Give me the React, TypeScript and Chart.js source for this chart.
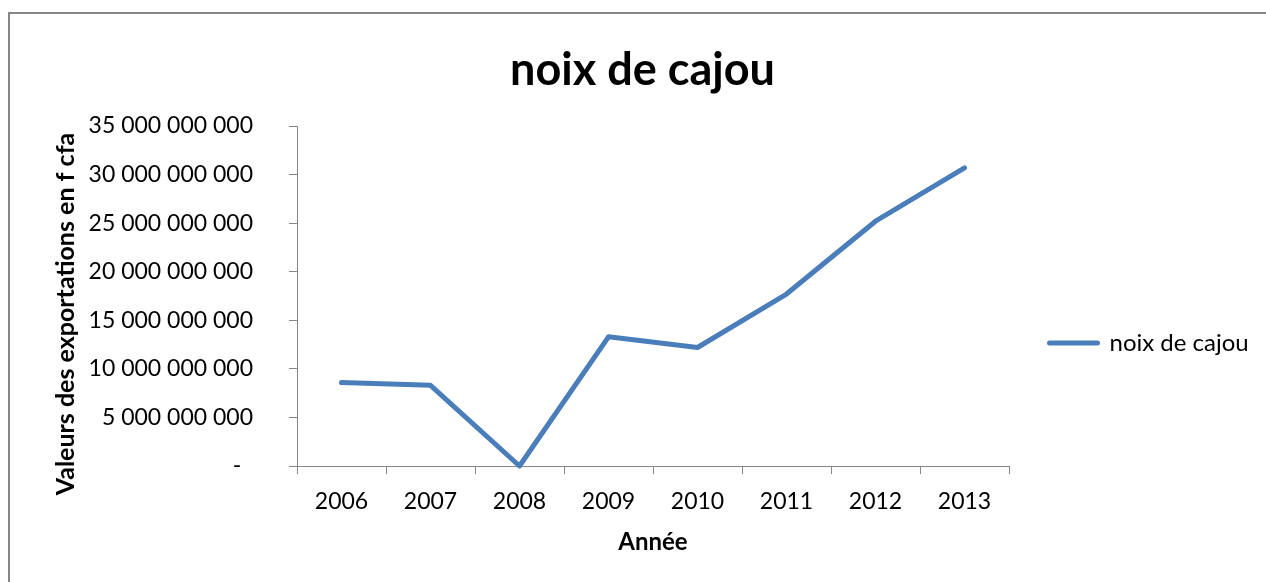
import React, { useEffect, useRef } from "react";
import { Chart, registerables } from "chart.js";

Chart.register(...registerables);

// ---- data ----
const categories = ["2006", "2007", "2008", "2009", "2010", "2011", "2012", "2013"];
const exportValues = [8.6e9, 8.3e9, 0, 13.3e9, 12.2e9, 17.7e9, 25.2e9, 30.7e9];
const yTickValues = [0, 5e9, 10e9, 15e9, 20e9, 25e9, 30e9, 35e9];
const yTickLabels = [
  "-  ",
  "5 000 000 000",
  "10 000 000 000",
  "15 000 000 000",
  "20 000 000 000",
  "25 000 000 000",
  "30 000 000 000",
  "35 000 000 000",
];
const seriesName = "noix de cajou";
const chartTitle = "noix de cajou";
const xAxisTitle = "Année";
const yAxisTitle = "Valeurs des exportations en f cfa";

// ---- styles / layout ----
const FONT = "Lato";
const AXIS_GRAY = "#868686";
const LINE_BLUE = "#4A7EBB";
const W = 1266;
const H = 582;
const PLOT = { left: 297, right: 1009, top: 126, bottom: 466 };
const TITLE_CX = 642.5;
const LEGEND_LINE_START = 1049.5;
const LEGEND_FONT = 24;
const LEGEND_BOX_W = 48;
const TICK_FONT = 23;

const yTitlePlugin = {
  id: "yTitleCustom",
  afterDraw(chart: any) {
    const { ctx, chartArea } = chart;
    ctx.save();
    ctx.font = `bold 25px ${FONT}`;
    ctx.fillStyle = "#000";
    ctx.textAlign = "center";
    ctx.textBaseline = "middle";
    ctx.translate(66, (chartArea.top + chartArea.bottom) / 2 + 18);
    ctx.rotate(-Math.PI / 2);
    ctx.fillText(yAxisTitle, 0, 0);
    ctx.restore();
  },
};

export default function App() {
  const ref = useRef<HTMLCanvasElement | null>(null);

  useEffect(() => {
    if (!ref.current) return;
    const m = document.createElement("canvas").getContext("2d")!;
    m.font = `normal ${LEGEND_FONT}px ${FONT}`;
    const textW = m.measureText(seriesName).width;
    const itemW = LEGEND_BOX_W + LEGEND_FONT / 2 + textW;
    const padR = W - LEGEND_LINE_START - itemW - 10;
    const legendPad = LEGEND_LINE_START - PLOT.right;
    const padL = 2 * TITLE_CX - W + padR;

    const chart = new Chart(ref.current, {
      type: "line",
      data: {
        labels: categories,
        datasets: [
          {
            label: seriesName,
            data: exportValues,
            borderColor: LINE_BLUE,
            backgroundColor: LINE_BLUE,
            borderWidth: 5,
            pointRadius: 0,
            pointHoverRadius: 0,
            tension: 0,
            borderCapStyle: "round",
            borderJoinStyle: "round",
            clip: false as any,
          },
        ],
      },
      options: {
        animation: false,
        responsive: false,
        devicePixelRatio: 1,
        events: [],
        layout: { padding: { left: padL, right: padR, top: 0, bottom: 0 } },
        plugins: {
          tooltip: { enabled: false },
          title: {
            display: true,
            text: chartTitle,
            color: "#000",
            font: { family: FONT, size: 45, weight: "bold" },
            padding: { top: 43, bottom: 29 },
          },
          legend: {
            display: true,
            position: "right",
            align: "center",
            title: {
              display: true,
              text: "",
              font: { family: FONT, size: 10 },
              padding: { top: 92, bottom: 0 },
            },
            labels: {
              color: "#000",
              font: { family: FONT, size: LEGEND_FONT },
              boxWidth: LEGEND_BOX_W,
              boxHeight: 0,
              padding: legendPad,
            },
          },
        },
        scales: {
          x: {
            type: "category",
            offset: true,
            grid: {
              offset: true,
              drawOnChartArea: false,
              drawTicks: true,
              tickLength: 8,
              color: AXIS_GRAY,
              lineWidth: 1,
            },
            border: { display: true, color: AXIS_GRAY, width: 1 },
            ticks: {
              color: "#000",
              font: { family: FONT, size: TICK_FONT },
              padding: 14,
              maxRotation: 0,
              autoSkip: false,
            },
            title: {
              display: true,
              text: xAxisTitle,
              color: "#000",
              font: { family: FONT, size: 24, weight: "bold" },
              padding: { top: 0, bottom: 25 },
            },
            afterFit: (s: any) => {
              s.height = H - PLOT.bottom;
            },
          },
          y: {
            min: 0,
            max: 35e9,
            grid: {
              drawOnChartArea: false,
              drawTicks: true,
              tickLength: 8,
              color: AXIS_GRAY,
              lineWidth: 1,
            },
            border: { display: true, color: AXIS_GRAY, width: 1 },
            ticks: {
              stepSize: 5e9,
              color: "#000",
              font: { family: FONT, size: TICK_FONT },
              padding: 36,
              callback: (value: any) => {
                const i = yTickValues.indexOf(Number(value));
                return i >= 0 ? yTickLabels[i] : "";
              },
            },
            afterFit: (s: any) => {
              s.width = PLOT.left - padL;
            },
          },
        },
      },
      plugins: [yTitlePlugin],
    });
    return () => chart.destroy();
  }, []);

  return (
    <div
      style={{
        position: "fixed",
        left: 0,
        top: 0,
        width: W,
        height: H,
        overflow: "hidden",
        background: "#fff",
      }}
    >
      <div
        style={{
          position: "absolute",
          left: 8,
          top: 12,
          width: 1400,
          height: 800,
          border: `2px solid ${AXIS_GRAY}`,
          boxSizing: "border-box",
        }}
      />
      <canvas
        ref={ref}
        width={W}
        height={H}
        style={{ position: "absolute", left: 0, top: 0, width: W, height: H }}
      />
    </div>
  );
}
